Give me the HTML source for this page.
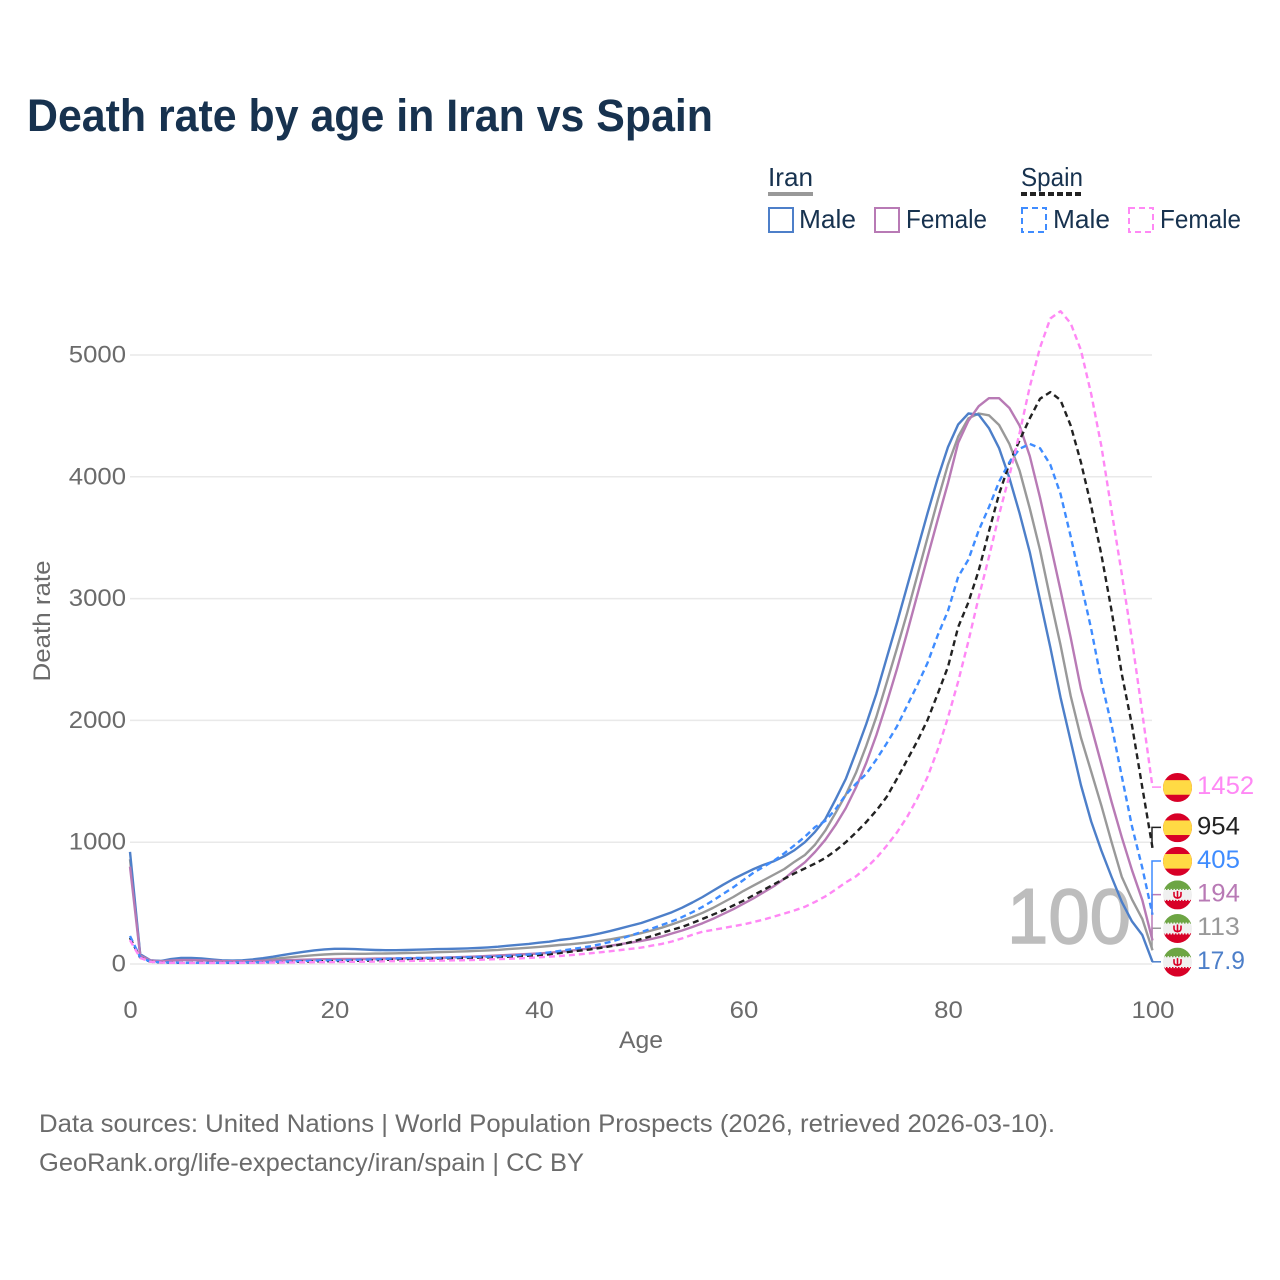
<!DOCTYPE html>
<html lang="en">
<head>
<meta charset="utf-8">
<title>Death rate by age in Iran vs Spain</title>
<style>
html,body{margin:0;padding:0;background:#fff;}
svg{display:block;font-family:"Liberation Sans",sans-serif;}
</style>
</head>
<body>
<svg id="chart" width="1280" height="1280" viewBox="0 0 1280 1280" xmlns="http://www.w3.org/2000/svg">
<rect width="1280" height="1280" fill="#fff"/>
<text x="27" y="131" font-size="45" font-weight="700" fill="#17324f" textLength="686" lengthAdjust="spacingAndGlyphs">Death rate by age in Iran vs Spain</text>

<g>
<text x="768" y="186" font-size="26" fill="#17324f" textLength="45" lengthAdjust="spacingAndGlyphs">Iran</text>
<line x1="768" x2="813" y1="194" y2="194" stroke="#999" stroke-width="4"/>
<text x="1021" y="186" font-size="26" fill="#17324f" textLength="62" lengthAdjust="spacingAndGlyphs">Spain</text>
<line x1="1021" x2="1083" y1="194" y2="194" stroke="#222" stroke-width="4" stroke-dasharray="6 3"/>
<rect x="769" y="208" width="24" height="24" fill="none" stroke="#4d7fc9" stroke-width="2"/>
<text x="799" y="228" font-size="26" fill="#17324f" textLength="57" lengthAdjust="spacingAndGlyphs">Male</text>
<rect x="875" y="208" width="24" height="24" fill="none" stroke="#b87ab5" stroke-width="2"/>
<text x="906" y="228" font-size="26" fill="#17324f" textLength="81" lengthAdjust="spacingAndGlyphs">Female</text>
<rect x="1022" y="208" width="24" height="24" fill="none" stroke="#3f8cff" stroke-width="2" stroke-dasharray="6 4"/>
<text x="1053" y="228" font-size="26" fill="#17324f" textLength="57" lengthAdjust="spacingAndGlyphs">Male</text>
<rect x="1129" y="208" width="24" height="24" fill="none" stroke="#ff88f5" stroke-width="2" stroke-dasharray="6 4"/>
<text x="1160" y="228" font-size="26" fill="#17324f" textLength="81" lengthAdjust="spacingAndGlyphs">Female</text>
</g>

<g id="grid"></g>
<g id="ticks"></g>
<text x="1007" y="943" font-size="78" fill="#bdbdbd" stroke="#bdbdbd" stroke-width="1.5" textLength="124" lengthAdjust="spacingAndGlyphs">100</text>
<text x="641" y="1048" font-size="24" fill="#6b6b6b" text-anchor="middle" textLength="44" lengthAdjust="spacingAndGlyphs">Age</text>
<text transform="translate(50 621) rotate(-90)" font-size="24" fill="#6b6b6b" text-anchor="middle" textLength="121" lengthAdjust="spacingAndGlyphs">Death rate</text>
<g id="series"></g>
<g id="endlabels"></g>

<text x="39" y="1132" font-size="25" fill="#6b6b6b" textLength="1016" lengthAdjust="spacingAndGlyphs">Data sources: United Nations | World Population Prospects (2026, retrieved 2026-03-10).</text>
<text x="39" y="1171" font-size="25" fill="#6b6b6b" textLength="545" lengthAdjust="spacingAndGlyphs">GeoRank.org/life-expectancy/iran/spain | CC BY</text>
</svg>
<script>
const xTickLabels = [0, 20, 40, 60, 80, 100];
const yTickLabels = [0, 1000, 2000, 3000, 4000, 5000];
const ages = Array.from({length: 101}, (_, i) => i);

const iranMale = [920,80,30,25,40,50,50,45,38,30,
28,30,38,48,60,75,88,100,112,120,
125,125,122,118,115,113,113,115,117,120,
122,124,126,128,132,136,142,150,158,165,
175,183,197,207,220,235,252,272,293,315,
337,365,395,425,462,505,550,600,650,698,
740,780,815,845,885,935,1000,1085,1190,1350,
1520,1740,1970,2220,2510,2800,3100,3400,3700,3990,
4245,4430,4520,4510,4400,4235,3990,3700,3380,2990,
2600,2190,1830,1470,1170,930,714,510,350,238,17.9];
const iranFemale = [800,70,28,22,28,32,32,30,27,24,
23,23,24,26,28,31,33,35,37,39,
40,41,42,43,44,45,46,47,48,49,
50,53,56,59,62,66,70,74,78,82,
86,92,100,108,118,128,138,150,163,176,
190,205,225,250,275,304,335,370,410,450,
495,540,590,640,700,770,835,920,1020,1140,
1280,1450,1650,1880,2140,2420,2720,3030,3340,3650,
3950,4280,4460,4580,4645,4645,4565,4420,4170,3830,
3450,3070,2680,2260,1950,1640,1330,1040,770,525,194];
const iranBoth = [860,75,29,24,33,40,40,37,32,27,
25,26,30,35,42,50,58,65,72,78,
82,84,84,84,85,86,88,90,92,94,
97,99,102,104,108,112,116,122,128,134,
140,148,156,162,170,178,190,203,218,235,
254,275,298,325,355,386,420,460,505,550,
600,645,690,735,780,840,895,980,1095,1240,
1390,1570,1790,2030,2307,2590,2880,3190,3500,3810,
4100,4330,4480,4520,4505,4425,4270,4050,3740,3400,
3000,2620,2200,1860,1580,1300,1000,715,530,370,113];
const spainMale = [230,55,20,14,12,11,10,10,10,11,
12,13,14,15,17,19,22,25,28,30,
30,31,33,35,38,42,46,48,49,50,
50,52,54,56,58,60,63,67,72,78,
85,95,107,120,132,145,162,182,208,235,
263,290,320,350,385,425,470,520,575,630,
690,750,800,850,910,975,1045,1125,1175,1270,
1390,1480,1560,1680,1810,1950,2120,2290,2471,2700,
2900,3180,3320,3560,3750,3960,4120,4230,4270,4235,
4100,3860,3510,3130,2750,2320,1960,1540,1130,790,405];
const spainFemale = [195,50,18,12,10,9,9,9,9,9,
9,10,10,11,12,12,13,14,15,15,
16,17,18,19,20,22,24,25,26,27,
28,29,30,32,34,37,40,43,46,50,
55,60,66,72,80,88,96,105,115,125,
135,150,165,185,210,240,265,280,295,310,
325,345,365,390,415,440,470,510,555,610,
670,720,790,870,970,1080,1207,1360,1535,1760,
2025,2320,2650,3010,3340,3690,4010,4360,4740,5060,
5300,5360,5260,5040,4680,4250,3720,3200,2660,2060,1452];
const spainBoth = [215,52,19,13,11,10,10,10,10,10,
10,11,12,13,14,15,17,19,21,23,
24,25,26,27,30,34,38,40,42,44,
45,47,49,50,52,54,57,60,64,68,
72,80,90,100,110,120,132,146,160,180,
205,228,255,280,305,337,370,405,440,480,
520,566,610,655,700,745,785,825,870,930,
1000,1080,1165,1260,1371,1520,1675,1830,2003,2220,
2440,2767,2970,3230,3550,3860,4110,4300,4480,4640,
4695,4630,4420,4120,3760,3360,2900,2380,1960,1450,954];

const seriesNames = ['iran-both', 'iran-male', 'iran-female', 'spain-both', 'spain-male', 'spain-female'];
const seriesValues = [iranBoth, iranMale, iranFemale, spainBoth, spainMale, spainFemale];
const seriesColors = ['#999999', '#4d7fc9', '#b87ab5', '#222222', '#3f8cff', '#ff88f5'];
const seriesDashed = [false, false, false, true, true, true];
const seriesFlags = ['iran', 'iran', 'iran', 'spain', 'spain', 'spain'];

const NS = 'http://www.w3.org/2000/svg';
const xScale = a => 130 + a * 10.225;
const yScale = v => 964 - v * 0.1218;

function make(tag, attrs, parent) {
  const el = document.createElementNS(NS, tag);
  for (const k in attrs) el.setAttribute(k, attrs[k]);
  parent.appendChild(el);
  return el;
}

const gridG = document.getElementById('grid');
const ticksG = document.getElementById('ticks');
yTickLabels.forEach(v => {
  const gl = make('line', {x1: 130, x2: 1152, y1: yScale(v), y2: yScale(v), stroke: '#e9e9e9', 'stroke-width': 1.5}, gridG);
  
  
  const s = String(v);
  const t = make('text', {x: 126, y: yScale(v) + 7.5, 'font-size': 24, fill: '#6b6b6b', 'text-anchor': 'end', textLength: s.length * 14.3, lengthAdjust: 'spacingAndGlyphs'}, ticksG);
  t.textContent = s;
  
  
});
xTickLabels.forEach(a => {
  const s = String(a);
  const t = make('text', {x: xScale(a) + 0.5, y: 1018, 'font-size': 24, fill: '#6b6b6b', 'text-anchor': 'middle', textLength: s.length * 14.3, lengthAdjust: 'spacingAndGlyphs'}, ticksG);
  t.textContent = s;
  
  
});

const seriesG = document.getElementById('series');
seriesValues.forEach((vals, i) => {
  const pts = vals.map((v, j) => xScale(ages[j]).toFixed(1) + ',' + yScale(v).toFixed(1)).join(' ');
  const attrs = {points: pts, fill: 'none', stroke: seriesColors[i], 'stroke-width': 2.4, 'stroke-linejoin': 'round'};
  if (seriesDashed[i]) attrs['stroke-dasharray'] = '6 4';
  const pl = make('polyline', attrs, seriesG);
  
  
});

function drawFlag(kind, cy, parent, idx) {
  const cx = 1177.5, r = 14.5;
  const g = make('g', {}, parent);
  
  
  const clipId = 'flagclip' + idx;
  const cp = make('clipPath', {id: clipId}, g);
  make('circle', {cx: cx, cy: cy, r: r}, cp);
  const inner = make('g', {'clip-path': 'url(#' + clipId + ')'}, g);
  if (kind === 'spain') {
    make('rect', {x: cx - r, y: cy - r, width: 2 * r, height: 2 * r, fill: '#d80027'}, inner);
    make('rect', {x: cx - r, y: cy - 7.3, width: 2 * r, height: 14.6, fill: '#ffda44'}, inner);
  } else {
    make('rect', {x: cx - r, y: cy - r, width: 2 * r, height: 2 * r, fill: '#f0f0f0'}, inner);
    make('rect', {x: cx - r, y: cy - r, width: 2 * r, height: 8.5, fill: '#6da544'}, inner);
    make('rect', {x: cx - r, y: cy + 6, width: 2 * r, height: 8.5, fill: '#d80027'}, inner);
    make('line', {x1: cx - r, x2: cx + r, y1: cy - 5.5, y2: cy - 5.5, stroke: '#6da544', 'stroke-width': 1.2, 'stroke-dasharray': '1.5 1.5'}, inner);
    make('line', {x1: cx - r, x2: cx + r, y1: cy + 5.5, y2: cy + 5.5, stroke: '#d80027', 'stroke-width': 1.2, 'stroke-dasharray': '1.5 1.5'}, inner);
    make('path', {d: 'M' + (cx - 3.5) + ' ' + (cy - 3) + 'v3q0 3 3.5 3t3.5 -3v-3M' + cx + ' ' + (cy - 4) + 'v8', fill: 'none', stroke: '#d80027', 'stroke-width': 1.6}, inner);
  }
}

// End labels: stack upward from the lowest end value so labels never overlap.
const endOrder = seriesValues.map((vals, i) => i).sort((a, b) => seriesValues[a][100] - seriesValues[b][100]);
const labelG = document.getElementById('endlabels');
let prevY = Infinity;
endOrder.forEach((i, n) => {
  const v = seriesValues[i][100];
  const yEnd = yScale(v);
  const yLab = Math.min(yEnd, prevY - 33.6);
  prevY = yLab;
  const conn = make('polyline', {points: '1152,' + yEnd.toFixed(1) + ' 1152,' + yLab.toFixed(1) + ' 1161,' + yLab.toFixed(1), fill: 'none', stroke: seriesColors[i], 'stroke-width': 1.5}, labelG);
  
  
  drawFlag(seriesFlags[i], yLab + 0.3, labelG, n);
  const s = String(v);
  const t = make('text', {x: 1197, y: yLab + 7, 'font-size': 25, fill: seriesColors[i], textLength: s.replace('.', '').length * 14.3 + (s.includes('.') ? 5 : 0), lengthAdjust: 'spacingAndGlyphs'}, labelG);
  t.textContent = s;
  
  
});
</script>
</body>
</html>
